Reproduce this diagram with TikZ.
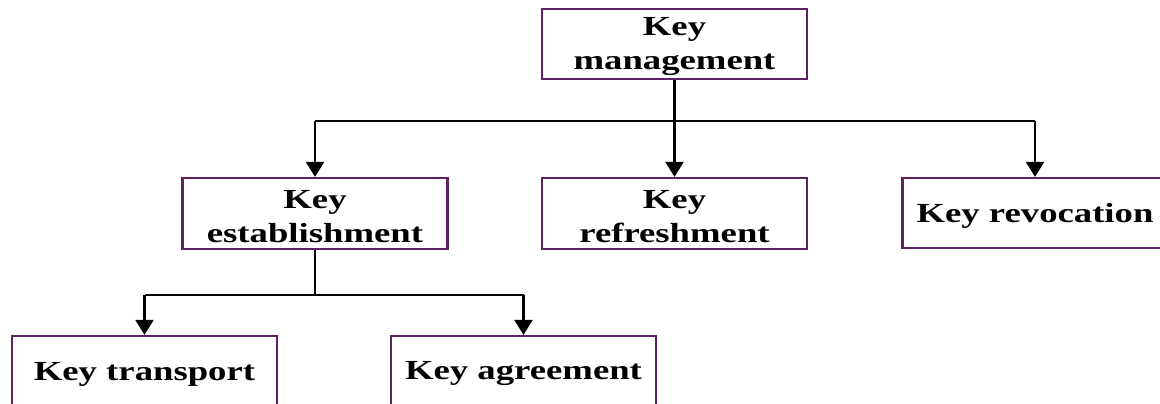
\documentclass[tikz,border=0pt]{standalone}
\usepackage{fontspec}
\setmainfont{Liberation Serif}[FakeStretch=1.33]
\usetikzlibrary{arrows.meta}
\definecolor{boxpurple}{RGB}{96,32,100}
% taller first line keeps the lettering a little below the box centre
\newcommand\tstrut{\rule{0pt}{24pt}}
\tikzset{
  box/.style={draw=boxpurple, line width=2.3pt, fill=white, minimum width=265pt,
    minimum height=70pt, inner sep=0pt, align=center,
    font=\fontsize{27.6}{34}\selectfont\bfseries},
  arr/.style={draw=black, line width=2.3pt,
    -{Triangle[width=18pt,length=15pt]}},
  bar/.style={draw=black, line width=2.3pt}
}
\begin{document}
\begin{tikzpicture}[x=1pt,y=-1pt]
  \useasboundingbox (0,0) rectangle (1160,404);
  % top level
  \node[box] (mgmt) at (674.5,44) {\tstrut Key\\management};
  % second level
  \node[box, minimum height=71pt] (est) at (315,213.5) {\tstrut Key\\establishment};
  \node[box, minimum height=71pt] (ref) at (674.5,213.5) {\tstrut Key\\refreshment};
  \node[box] (rev) at (1035,213) {\tstrut Key revocation};
  % third level
  \node[box] (tra) at (144.5,371) {\tstrut Key transport};
  \node[box] (agr) at (523.5,371) {\tstrut Key agreement};
  % bus lines
  \coordinate (bus1) at (0,121);
  \coordinate (bus2) at (0,295);
  \draw[bar] (est.north |- bus1) -- (rev.north |- bus1);
  \draw[arr] (mgmt.south) -- (ref.north);
  \draw[arr] (est.north |- bus1) -- (est.north);
  \draw[arr] (rev.north |- bus1) -- (rev.north);
  \draw[bar] (est.south) -- (est.south |- bus2);
  \draw[bar] (tra.north |- bus2) -- (agr.north |- bus2);
  \draw[arr] (tra.north |- bus2) -- (tra.north);
  \draw[arr] (agr.north |- bus2) -- (agr.north);
\end{tikzpicture}
\end{document}
